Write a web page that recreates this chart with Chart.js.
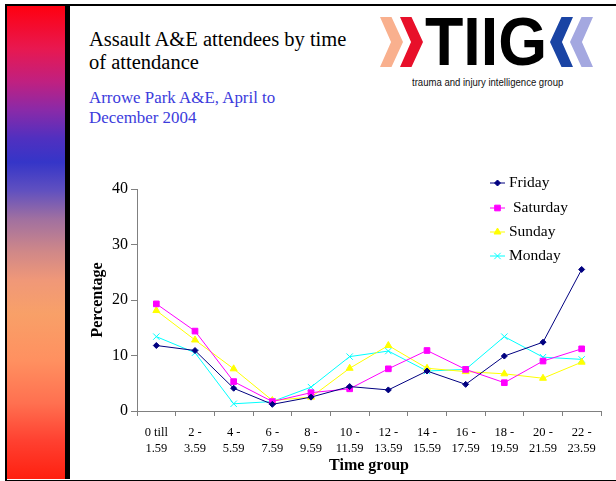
<!DOCTYPE html>
<html lang="en">
<head>
    <meta charset="UTF-8">
    <title>Assault A&amp;E attendees by time of attendance</title>
    <script src="https://cdn.jsdelivr.net/npm/chart.js"></script>
    <style>
        body {
            margin: 0;
            width: 616px;
            height: 481px;
            background: #fff;
            position: relative;
            overflow: hidden;
            font-family: 'Liberation Serif', 'Times New Roman', serif;
        }

        .frame {
            position: absolute;
            left: 5px;
            top: 4px;
            width: 609px;
            height: 474px;
            border-top: 2px solid #000;
            border-left: 2px solid #000;
            border-bottom: 2px solid #000;
        }

        .side-bar {
            position: absolute;
            left: 7px;
            top: 6px;
            width: 58px;
            height: 473px;
            background: linear-gradient(to bottom,
                #ff0010 0%, #e81850 9%, #c02080 16%, #8a2aa8 22%, #5030c0 28%, #3535c8 33%,
                #6050c0 39%, #a070a0 45%, #d08888 52%, #f09878 58%, #f8a068 65%,
                #ff9060 75%, #ff7050 84%, #ff4030 92%, #ff2010 100%);
        }

        .side-line {
            position: absolute;
            left: 65px;
            top: 6px;
            width: 5px;
            height: 473px;
            background: #000;
        }

        .title {
            position: absolute;
            left: 89px;
            top: 28px;
            width: 266px;
            font-size: 20.5px;
            line-height: 23px;
            color: #000;
        }

        .subtitle {
            position: absolute;
            left: 89px;
            top: 88px;
            width: 240px;
            font-size: 16.9px;
            line-height: 20px;
            color: #3c3cdc;
        }

        .chev {
            position: absolute;
            top: 17px;
            width: 23px;
            height: 50px;
        }

        .chev.right {
            clip-path: polygon(0 0, 50% 0, 100% 50%, 50% 100%, 0 100%, 48% 50%);
        }

        .chev.left {
            clip-path: polygon(100% 0, 50% 0, 0 50%, 50% 100%, 100% 100%, 52% 50%);
        }

        .logo-text {
            position: absolute;
            left: 425px;
            top: 4px;
            font-family: 'Liberation Sans', Arial, sans-serif;
            font-weight: bold;
            font-size: 69px;
            line-height: 76px;
            color: #000;
            transform: scaleX(0.91);
            transform-origin: left top;
        }

        .logo-sub {
            position: absolute;
            left: 412px;
            top: 77px;
            font-family: 'Liberation Sans', Arial, sans-serif;
            font-size: 10px;
            line-height: 12px;
            color: #111;
            transform: scaleX(0.955);
            transform-origin: left top;
            white-space: nowrap;
        }

        .chart-box {
            position: absolute;
            left: 70px;
            top: 150px;
            width: 543px;
            height: 325px;
        }
    </style>
</head>
<body>
    <div class="frame"></div>
    <div class="side-bar"></div>
    <div class="side-line"></div>

    <div class="title">Assault A&amp;E attendees by time of attendance</div>
    <div class="subtitle">Arrowe Park A&amp;E, April to December 2004</div>

    <div class="chev right" style="left:380px;background:#f9b08e"></div>
    <div class="chev right" style="left:400px;background:#e8102a"></div>
    <div class="logo-text">TIIG</div>
    <div class="chev left" style="left:550px;background:#1a44a4"></div>
    <div class="chev left" style="left:570px;background:#a4a8e0"></div>
    <div class="logo-sub">trauma and injury intelligence group</div>

    <div class="chart-box">
        <canvas id="chart"></canvas>
    </div>

    <script>
        const timeGroups = [
            ['0 till', '1.59'], ['2 -', '3.59'], ['4 -', '5.59'], ['6 -', '7.59'],
            ['8 -', '9.59'], ['10 -', '11.59'], ['12 -', '13.59'], ['14 -', '15.59'],
            ['16 -', '17.59'], ['18 -', '19.59'], ['20 -', '21.59'], ['22 -', '23.59']
        ];

        const friday   = [11.8, 10.9, 4.1, 1.2, 2.5, 4.4, 3.8, 7.2, 4.8, 9.9, 12.4, 25.5];
        const saturday = [19.3, 14.4, 5.3, 1.7, 3.3, 4.0, 7.6, 10.9, 7.5, 5.1, 9.0, 11.2];
        const sunday   = [18.1, 12.8, 7.6, 1.9, 2.5, 7.7, 11.8, 7.7, 7.1, 6.7, 5.9, 8.8];
        const monday   = [13.4, 10.5, 1.3, 1.7, 4.3, 9.8, 10.8, 7.2, 7.5, 13.4, 9.7, 9.3];

        const yTicks = [0, 10, 20, 30, 40];

        const serif = "'Liberation Serif', 'Times New Roman', serif";

        function series(label, data, color, pointStyle, radius) {
            return {
                label,
                data,
                borderColor: color,
                backgroundColor: color,
                borderWidth: 1,
                pointStyle,
                pointRadius: radius,
                pointHoverRadius: radius,
                pointBorderWidth: 1,
                tension: 0,
                fill: false
            };
        }

        // legend drawn as line + marker, like the original
        const lineLegend = {
            id: 'lineLegend',
            afterDraw(chart) {
                const ctx = chart.ctx;
                const rows = [33, 58, 82, 106];
                const drawPoint = Chart.helpers && Chart.helpers.drawPoint;
                ctx.save();
                chart.data.datasets.forEach((ds, i) => {
                    const y = rows[i];
                    ctx.strokeStyle = ds.borderColor;
                    ctx.lineWidth = 1;
                    ctx.beginPath();
                    ctx.moveTo(420, y);
                    ctx.lineTo(435, y);
                    ctx.stroke();
                    if (drawPoint) {
                        ctx.fillStyle = ds.backgroundColor;
                        drawPoint(ctx, {
                            pointStyle: ds.pointStyle,
                            radius: ds.pointRadius,
                            rotation: 0,
                            borderWidth: 1
                        }, 427.5, y);
                    }
                    ctx.fillStyle = '#000';
                    ctx.font = '15.5px ' + serif;
                    ctx.textBaseline = 'middle';
                    ctx.textAlign = 'left';
                    ctx.fillText(i === 1 ? ' ' + ds.label : ds.label, 439, y);
                });
                ctx.restore();
            }
        };

        new Chart(document.getElementById('chart'), {
            type: 'line',
            data: {
                labels: timeGroups,
                datasets: [
                    series('Friday', friday, '#000080', 'rectRot', 3),
                    series('Saturday', saturday, '#ff00ff', 'rect', 4),
                    series('Sunday', sunday, '#ffff00', 'triangle', 4),
                    series('Monday', monday, '#00ffff', 'crossRot', 4.5)
                ]
            },
            options: {
                responsive: true,
                maintainAspectRatio: false,
                animation: false,
                layout: {
                    padding: { left: 18, top: 39, right: 12, bottom: 0 }
                },
                plugins: {
                    legend: { display: false },
                    tooltip: { enabled: false }
                },
                scales: {
                    x: {
                        offset: true,
                        afterFit(scale) { scale.height = 64; },
                        grid: {
                            offset: true,
                            drawOnChartArea: false,
                            drawTicks: true,
                            tickLength: 5,
                            color: '#808080'
                        },
                        border: { color: '#808080', width: 1 },
                        ticks: {
                            color: '#000',
                            padding: 9,
                            maxRotation: 0,
                            autoSkip: false,
                            font: { family: serif, size: 12.5, lineHeight: 1.28 }
                        },
                        title: {
                            display: true,
                            text: 'Time group',
                            color: '#000',
                            padding: { top: 0, bottom: 0 },
                            font: { family: serif, size: 16, weight: 'bold', lineHeight: 1.2 }
                        }
                    },
                    y: {
                        min: 0,
                        max: 40,
                        afterFit(scale) { scale.width = 49; },
                        afterBuildTicks(scale) {
                            scale.ticks = yTicks.map(v => ({ value: v }));
                        },
                        grid: {
                            drawOnChartArea: false,
                            drawTicks: true,
                            tickLength: 6,
                            color: '#808080'
                        },
                        border: { color: '#808080', width: 1 },
                        ticks: {
                            color: '#000',
                            padding: 3,
                            font: { family: serif, size: 16 }
                        },
                        title: {
                            display: true,
                            text: 'Percentage',
                            color: '#000',
                            padding: { top: 0, bottom: 0 },
                            font: { family: serif, size: 16, weight: 'bold', lineHeight: 1.2 }
                        }
                    }
                }
            },
            plugins: [lineLegend]
        });
    </script>
</body>
</html>
